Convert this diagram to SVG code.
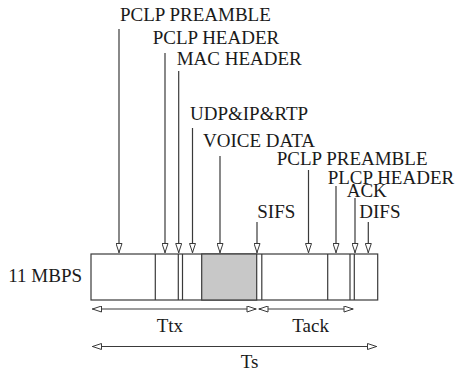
<svg xmlns="http://www.w3.org/2000/svg" width="461" height="373" viewBox="0 0 461 373">
<style>
text{font-family:"Liberation Serif","Times New Roman",serif;font-size:19px;fill:#1a1a1a}
.ln{stroke:#3a3a3a;stroke-width:1.2;fill:none}
.pt{stroke:#3a3a3a;stroke-width:1.2;fill:#fff}
</style>
<defs>
<marker id="ah" viewBox="0 0 10 7" refX="10" refY="3.5" markerWidth="11" markerHeight="7" markerUnits="userSpaceOnUse" orient="auto-start-reverse">
<path d="M0.5,0.5 L9.5,3.5 L0.5,6.5 z" fill="#fff" stroke="#3a3a3a" stroke-width="1"/>
</marker>
</defs>
<rect width="461" height="373" fill="#fff"/>
<g id="frame">
<rect class="pt" x="91" y="254" width="286.7" height="46"/>
<rect x="201.7" y="254" width="55" height="46" fill="#c8c8c8" stroke="#3a3a3a" stroke-width="1.2"/>
<line class="ln" x1="155.3" y1="254" x2="155.3" y2="300"/>
<line class="ln" x1="178.3" y1="254" x2="178.3" y2="300"/>
<line class="ln" x1="182.5" y1="254" x2="182.5" y2="300"/>
<line class="ln" x1="261.8" y1="254" x2="261.8" y2="300"/>
<line class="ln" x1="327.7" y1="254" x2="327.7" y2="300"/>
<line class="ln" x1="350" y1="254" x2="350" y2="300"/>
<line class="ln" x1="354.3" y1="254" x2="354.3" y2="300"/>
</g>
<g id="labels">
<text x="120" y="21">PCLP PREAMBLE</text>
<text x="152.7" y="44">PCLP HEADER</text>
<text x="176.7" y="65">MAC HEADER</text>
<text x="190" y="120">UDP&amp;IP&amp;RTP</text>
<text x="203" y="146.5">VOICE DATA</text>
<text x="276.7" y="165">PCLP PREAMBLE</text>
<text x="327.7" y="183.5">PLCP HEADER</text>
<text x="346.7" y="197">ACK</text>
<text x="257.3" y="217.5">SIFS</text>
<text x="359.3" y="217.5">DIFS</text>
<text x="8.3" y="282">11 MBPS</text>
<text x="156.7" y="332">Ttx</text>
<text x="292.3" y="332">Tack</text>
<text x="240.7" y="368">Ts</text>
</g>
<g id="connectors">
<line class="ln" x1="119" y1="29" x2="119" y2="253" marker-end="url(#ah)"/>
<line class="ln" x1="165" y1="53" x2="165" y2="253" marker-end="url(#ah)"/>
<line class="ln" x1="178.7" y1="71" x2="178.7" y2="253" marker-end="url(#ah)"/>
<line class="ln" x1="192.5" y1="128" x2="192.5" y2="253" marker-end="url(#ah)"/>
<line class="ln" x1="220" y1="156" x2="220" y2="253" marker-end="url(#ah)"/>
<line class="ln" x1="257" y1="222" x2="257" y2="253" marker-end="url(#ah)"/>
<line class="ln" x1="308.5" y1="170" x2="308.5" y2="253" marker-end="url(#ah)"/>
<line class="ln" x1="336" y1="186" x2="336" y2="253" marker-end="url(#ah)"/>
<line class="ln" x1="355" y1="198" x2="355" y2="253" marker-end="url(#ah)"/>
<line class="ln" x1="368.3" y1="222" x2="368.3" y2="253" marker-end="url(#ah)"/>
<line class="ln" x1="92" y1="309" x2="256.5" y2="309" marker-start="url(#ah)" marker-end="url(#ah)"/>
<line class="ln" x1="258.5" y1="309" x2="353.5" y2="309" marker-start="url(#ah)" marker-end="url(#ah)"/>
<line class="ln" x1="92" y1="346.5" x2="377" y2="346.5" marker-start="url(#ah)" marker-end="url(#ah)"/>
</g>
</svg>
